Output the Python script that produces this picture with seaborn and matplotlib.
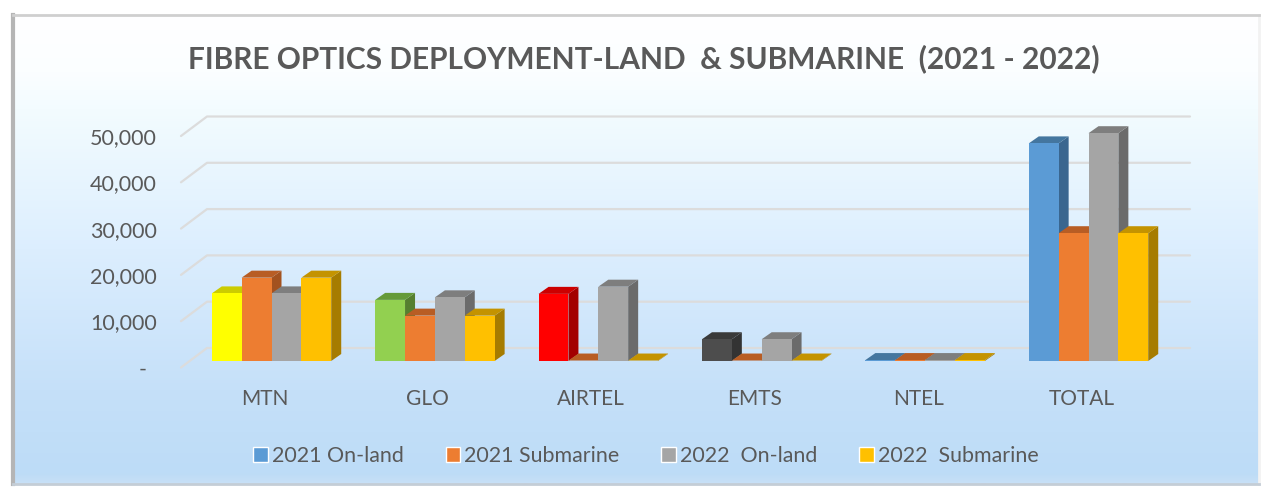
import matplotlib
matplotlib.use("Agg")
import matplotlib.pyplot as plt
import matplotlib.patches as mpatches
from matplotlib.colors import LinearSegmentedColormap
from matplotlib.transforms import ScaledTranslation
import numpy as np
import pandas as pd
import seaborn as sns

companies = ["MTN", "GLO", "AIRTEL", "EMTS", "NTEL", "TOTAL"]
series_names = ["2021 On-land", "2021 Submarine", "2022  On-land", "2022  Submarine"]
land_2021 = [14600, 13200, 14500, 4700, 200, 47000]
sub_2021 = [18000, 9800, 100, 100, 200, 27600]
land_2022 = [14600, 13750, 16050, 4700, 200, 49200]
sub_2022 = [18000, 9800, 100, 100, 200, 27600]
ytick_values = [0, 10000, 20000, 30000, 40000, 50000]
ytick_labels = ["-", "10,000", "20,000", "30,000", "40,000", "50,000"]

# (front, top, side) colours for the series
blue = ("#5B9BD5", "#44769F", "#3A668F")
orange = ("#ED7D31", "#B85D24", "#A3521F")
gray = ("#A5A5A5", "#7E7E7E", "#6B6B6B")
gold = ("#FFC000", "#C49300", "#A67C00")
yellow = ("#FFFF00", "#CCCC00", "#A8A800")
green = ("#92D050", "#659A39", "#567F2F")
red = ("#FF0000", "#CC0000", "#A30000")
dark = ("#4D4D4D", "#3A3A3A", "#333333")
# the first series has its own colour for each company
land_2021_colors = [yellow, green, red, dark, blue, blue]

W, H = 1262, 487
sns.set_style("white")
plt.rcParams["font.family"] = ["Lato", "DejaVu Sans"]
text_color = "#595959"

df = pd.DataFrame({
    "company": companies * 4,
    "series": np.repeat(series_names, len(companies)),
    "length": land_2021 + sub_2021 + land_2022 + sub_2022,
})

fig = plt.figure(figsize=(W / 100, H / 100), dpi=100, facecolor="white")

# chart area background
bg = fig.add_axes([13 / W, 1 - 484 / H, (1259 - 13) / W, (484 - 15) / H], zorder=0)
grad = LinearSegmentedColormap.from_list(
    "bg",
    [(0, "#FFFFFF"), (0.12, "#FBFEFF"), (0.2, "#F3FCFF"), (0.5, "#DCEEFE"),
     (0.8, "#C5E0F9"), (0.98, "#BDDCF7"), (1, "#C8E0F6")],
)
bg.imshow(np.linspace(0, 1, 256).reshape(-1, 1), aspect="auto", cmap=grad)
bg.set_xticks([])
bg.set_yticks([])
for side, col, lw in [("left", "#B5B5B5", 3), ("top", "#CFCFCF", 2),
                      ("right", "#F2F2F2", 2), ("bottom", "#C4CDD6", 2)]:
    bg.spines[side].set_color(col)
    bg.spines[side].set_linewidth(lw)

# px mapping: category 0 centred at 271.5, 163.4 px between categories
x_per_px = 1 / 163.4
y_per_px = 10000 / 46.3
left_px, right_px, top_px, bottom_px = 181, 1190, 110, 370
ax = fig.add_axes([left_px / W, 1 - bottom_px / H, (right_px - left_px) / W, (bottom_px - top_px) / H], zorder=1)
ax.patch.set_alpha(0)

sns.barplot(
    data=df, x="company", y="length", hue="series", order=companies, hue_order=series_names,
    palette=[blue[0], orange[0], gray[0], gold[0]], width=0.731, gap=0, saturation=1,
    errorbar=None, ax=ax, zorder=5,
)
ax.set_xlim((left_px - 271.5) * x_per_px, (right_px - 271.5) * x_per_px)
ax.set_ylim(-(bottom_px - 361) * y_per_px, (361 - top_px) * y_per_px)

# fake 3D: side and top faces for every bar, painted left to right
depth_x = 10 * x_per_px
depth_y = 7 * y_per_px
series_colors = [orange, gray, gold]
bars = [b for c in ax.containers for b in c]
color_map = {}
for s, cont in enumerate(ax.containers):
    for i, bar in enumerate(cont):
        color_map[bar] = land_2021_colors[i] if s == 0 else series_colors[s - 1]

for n, bar in enumerate(sorted(bars, key=lambda b: b.get_x())):
    front, top, side = color_map[bar]
    x0 = bar.get_x()
    x1 = x0 + bar.get_width()
    h = bar.get_height()
    bar.set_facecolor(front)
    bar.set_edgecolor("none")
    bar.set_zorder(5 + n * 3 + 2)
    ax.add_patch(mpatches.Polygon(
        [(x1, 0), (x1 + depth_x, depth_y), (x1 + depth_x, h + depth_y), (x1, h)],
        facecolor=side, edgecolor="none", zorder=5 + n * 3,
    ))
    ax.add_patch(mpatches.Polygon(
        [(x0, h), (x0 + depth_x, h + depth_y), (x1 + depth_x, h + depth_y), (x1, h)],
        facecolor=top, edgecolor="none", zorder=5 + n * 3 + 1,
    ))

# gridlines on the back wall with a slanted part on the side wall
back_dy = 13 * y_per_px
front_dy = -6.5 * y_per_px
wall_x0, wall_x1 = ax.get_xlim()[0], (207 - 271.5) * x_per_px
for v in ytick_values:
    ax.plot([wall_x0, wall_x1, ax.get_xlim()[1]], [v + front_dy, v + back_dy, v + back_dy],
            color="#DCDCDC", lw=1.6, zorder=2, clip_on=False)

ax.set_xlabel("")
ax.set_ylabel("")
ax.set_yticks(ytick_values)
ax.set_yticklabels(ytick_labels)
ax.tick_params(axis="y", length=0, pad=17.5, labelsize=15.5, labelcolor=text_color)
ax.tick_params(axis="x", length=0, pad=14, labelsize=15, labelcolor=text_color)
for label in ax.get_yticklabels():
    shift_x = -10 / 100 if label.get_text() == "-" else 0
    label.set_transform(label.get_transform() + ScaledTranslation(shift_x, -6.5 / 100, fig.dpi_scale_trans))
for label in ax.get_xticklabels():
    label.set_transform(label.get_transform() + ScaledTranslation(-7 / 100, 0, fig.dpi_scale_trans))
sns.despine(ax=ax, left=True, bottom=True)

sns.move_legend(
    ax, "center", bbox_to_anchor=(646 / W, 1 - 456 / H), bbox_transform=fig.transFigure,
    ncol=4, frameon=False, title=None, fontsize=15.4, handlelength=0.68, handleheight=0.68,
    handletextpad=0.2, columnspacing=1.95, labelcolor=text_color,
)

fig.text(644 / W, 1 - 59 / H, "FIBRE OPTICS DEPLOYMENT-LAND  & SUBMARINE  (2021 - 2022)",
         ha="center", va="center", fontsize=21.5, fontweight="bold", color=text_color, zorder=3)

fig.savefig("out.png", dpi=100)
